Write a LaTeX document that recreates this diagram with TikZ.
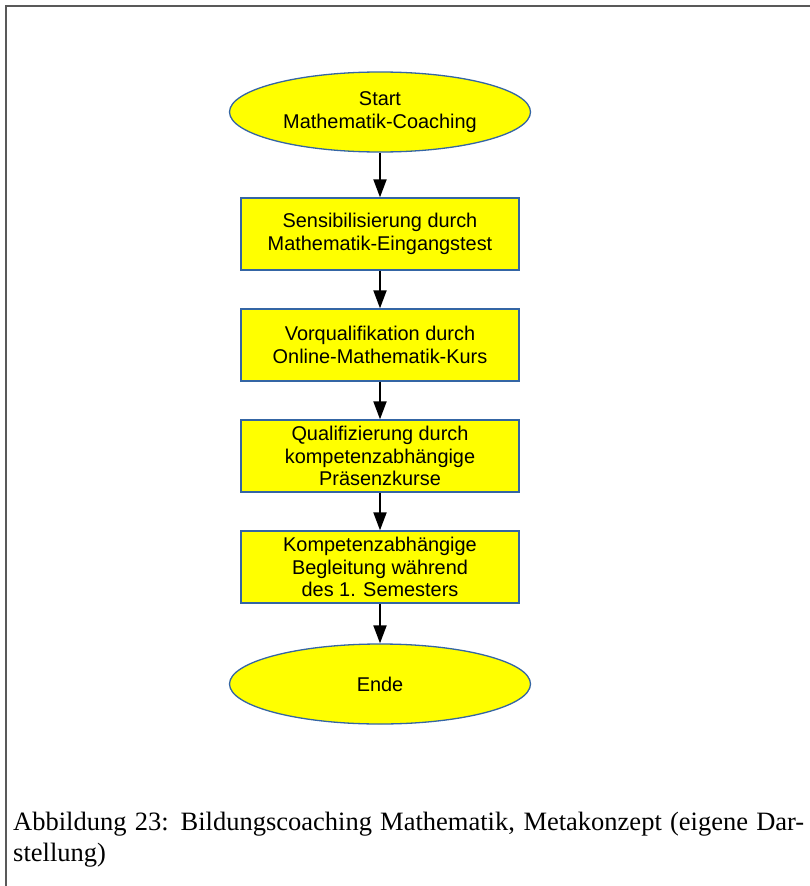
\documentclass[tikz,border=0pt]{standalone}
\usepackage{fontspec}
\setmainfont{Liberation Serif}
\newfontfamily\boxfont{Liberation Sans}
\usetikzlibrary{positioning,arrows.meta,shapes.geometric}
\definecolor{boxline}{HTML}{3465A4}
\definecolor{boxfill}{HTML}{FFFF00}
\tikzset{
  stepbox/.style={draw=boxline,fill=boxfill,line width=1.3pt,align=center,font=\boxfont\fontsize{19.9}{22.5}\selectfont,inner sep=2pt,minimum width=278pt,minimum height=72pt},
  term/.style={stepbox,ellipse,minimum width=301pt,minimum height=80pt},
  arr/.style={-{Triangle[length=18pt,width=13pt]},line width=2pt},
  frame/.style={draw=black!65,line width=1.6pt},
  captext/.style={anchor=base west,inner sep=0pt,font=\fontsize{26.5}{31}\selectfont}
}

\begin{document}
\begin{tikzpicture}[x=1pt,y=-1pt,node distance=37.7pt]
  \useasboundingbox (0,0) rectangle (810,886);
  \draw[frame] (810,6) -- (6,6) -- (6,886);
  \node[term] (start) at (380,112) {Start\\Mathematik-Coaching};
  \node[stepbox,below=44.7pt of start] (test) {Sensibilisierung durch\\Mathematik-Eingangstest};
  \node[stepbox,below=of test] (online) {Vorqualifikation durch\\Online-Mathematik-Kurs};
  \node[stepbox,below=of online] (praesenz) {Qualifizierung durch\\kompetenzabhängige\\Präsenzkurse};
  \node[stepbox,below=of praesenz] (semester) {Kompetenzabhängige\\Begleitung während\\des 1. Semesters};
  \node[term,below=39.7pt of semester] (ende) {Ende};
  \draw[arr] (start) -- (test);
  \draw[arr] (test) -- (online);
  \draw[arr] (online) -- (praesenz);
  \draw[arr] (praesenz) -- (semester);
  \draw[arr] (semester) -- (ende);
  \node[captext] (caption) at (13,830)
    {\makebox[791pt][s]{Abbildung 23: Bildungscoaching Mathematik, Metakonzept (eigene Dar-}};
  \node[captext] (caption2) at (13,861) {stellung)};
\end{tikzpicture}
\end{document}
